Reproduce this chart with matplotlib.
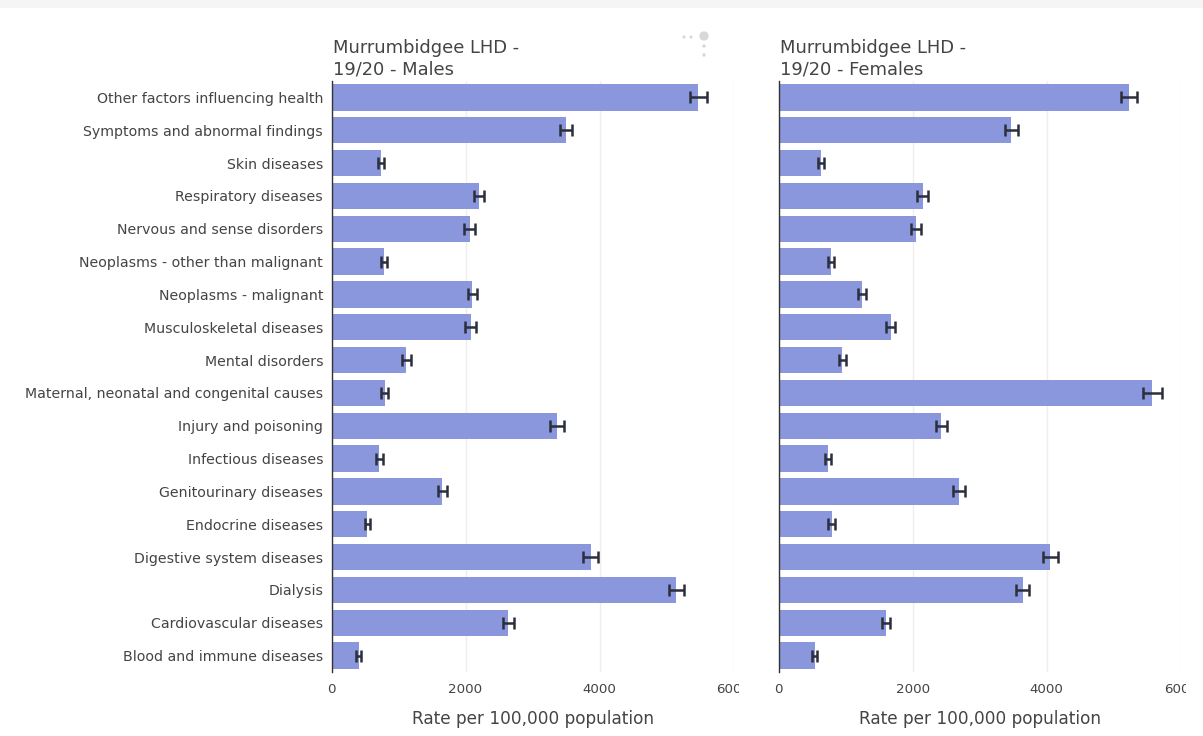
import matplotlib
matplotlib.use("Agg")
import matplotlib.pyplot as plt
from matplotlib.transforms import Bbox

# Hospitalisation rates per 100,000 population, Murrumbidgee LHD 2019/20
categories = [
    "Other factors influencing health",
    "Symptoms and abnormal findings",
    "Skin diseases",
    "Respiratory diseases",
    "Nervous and sense disorders",
    "Neoplasms - other than malignant",
    "Neoplasms - malignant",
    "Musculoskeletal diseases",
    "Mental disorders",
    "Maternal, neonatal and congenital causes",
    "Injury and poisoning",
    "Infectious diseases",
    "Genitourinary diseases",
    "Endocrine diseases",
    "Digestive system diseases",
    "Dialysis",
    "Cardiovascular diseases",
    "Blood and immune diseases",
]

males_rate = [5473, 3502, 736, 2204, 2060, 781, 2104, 2075, 1119,
              796, 3368, 716, 1652, 537, 3871, 5149, 2637, 408]
males_err = [125, 95, 45, 78, 78, 45, 74, 78, 63,
             52, 105, 47, 68, 40, 110, 118, 83, 38]

females_rate = [5231, 3474, 625, 2149, 2050, 779, 1246, 1672, 948,
                5578, 2427, 734, 2695, 789, 4055, 3643, 1598, 536]
females_err = [123, 98, 45, 78, 75, 45, 58, 70, 53,
               145, 85, 47, 93, 52, 113, 95, 60, 40]

panel_titles = ["Murrumbidgee LHD -\n19/20 - Males",
                "Murrumbidgee LHD -\n19/20 - Females"]
x_ticks = [0, 2000, 4000, 6000]
x_label = "Rate per 100,000 population"

BAR = "#8b97dd"
ERR = "#2b2f3a"
TEXT = "#444444"
GRID = "#eeeeee"

W, H = 1203, 736
fig = plt.figure(figsize=(W / 100, H / 100), dpi=100)
fig.patch.set_facecolor("white")

# faint band along the top edge of the page
fig.patches.append(plt.Rectangle((0, 1 - 8 / H), 1, 8 / H, transform=fig.transFigure,
                                 facecolor="#f5f5f5", edgecolor="none", zorder=0))

# small toolbar glyph above the first panel
tb = fig.add_axes([0, 0, 1, 1], zorder=-1)
tb.set_xlim(0, W)
tb.set_ylim(H, 0)
tb.axis("off")
tb.scatter([684, 691, 704, 704, 704], [37, 37, 36, 46, 55],
           s=[5, 5, 45, 6, 6], color="#d8d8d8", edgecolors="none")

panels = [(331.5, males_rate, males_err), (778.7, females_rate, females_err)]
ax_w = 402
ax_top, ax_bot = 81, 672

positions = list(range(len(categories)))

for i, (x0, rates, errs) in enumerate(panels):
    ax = fig.add_axes([x0 / W, (H - ax_bot) / H, ax_w / W, (ax_bot - ax_top) / H])
    ax.barh(positions, rates, height=0.8, color=BAR, edgecolor="none", zorder=2)
    ax.errorbar(rates, positions, xerr=errs, fmt="none", ecolor=ERR,
                elinewidth=1.8, capsize=4.5, capthick=1.8, zorder=3)
    ax.set_xlim(0, 6000)
    ax.set_ylim(len(categories) - 0.5, -0.5)
    ax.set_xticks(x_ticks)
    ax.set_xticklabels([str(t) for t in x_ticks])
    ax.xaxis.grid(True, color=GRID, linewidth=1, zorder=0)
    ax.set_axisbelow(True)
    ax.set_yticks(positions)
    if i == 0:
        ax.set_yticklabels(categories)
    else:
        ax.set_yticklabels([])
    ax.tick_params(axis="both", length=0, colors=TEXT)
    ax.tick_params(axis="x", pad=8, labelsize=9.6)
    ax.tick_params(axis="y", pad=6, labelsize=10.2)
    for s in ["top", "right", "bottom"]:
        ax.spines[s].set_visible(False)
    ax.spines["left"].set_color("#333333")
    ax.spines["left"].set_linewidth(1)
    ax.set_xlabel(x_label, fontsize=12.2, color=TEXT, labelpad=10)
    ax.text(0.003, 1.004, panel_titles[i], transform=ax.transAxes, ha="left", va="bottom",
            fontsize=12.9, color=TEXT, linespacing=1.28)
    # the last tick label is cut off at the right edge of the plot area
    clip = Bbox.from_extents(0, 0, (x0 + ax_w + 5), H)
    for lbl in ax.get_xticklabels():
        lbl.set_clip_box(clip)
        lbl.set_clip_on(True)

fig.savefig("out.png", dpi=100, facecolor="white")
